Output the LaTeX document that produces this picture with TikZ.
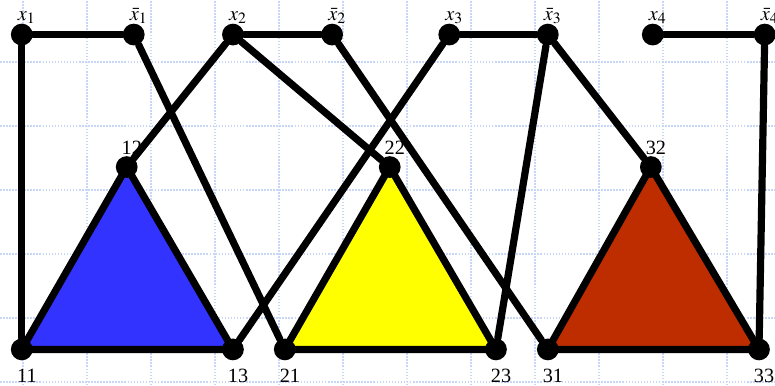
\documentclass[tikz,border=0pt]{standalone}
\usepackage{mathptmx}
\usepackage{fontspec}
\setmainfont{Liberation Serif}
\usepackage{xcolor}
\usepackage{tikz}
\usetikzlibrary{positioning,calc,backgrounds}

\definecolor{gridblue}{RGB}{200,214,248}
\definecolor{triblue}{RGB}{51,51,255}
\definecolor{triyellow}{RGB}{255,255,0}
\definecolor{trired}{RGB}{190,45,0}

\begin{document}
\begin{tikzpicture}[
    dot/.style={circle, fill=black, inner sep=0pt, minimum size=0.34cm},
    wire/.style={line width=3.2pt, black, line join=round, line cap=round},
    lab/.style={font=\fontsize{9}{10}\selectfont, inner sep=0pt, text depth=0pt, xshift=0.08cm},
    gridline/.style={gridblue, line width=0.7pt, dash pattern=on 0.7pt off 0.65pt}
]
    \useasboundingbox (0,0) rectangle (12.11,6.02);

    % Literal nodes (top row)
    \node[dot, label={[lab, label distance=1.1pt]above:$x_1$}] (x1) at (0.34,5.48) {};
    \node[dot, label={[lab, label distance=1.1pt]above:$\bar{x}_1$}] (nx1) at (2.09,5.48) {};
    \node[dot, label={[lab, label distance=1.1pt]above:$x_2$}] (x2) at (3.64,5.48) {};
    \node[dot, label={[lab, label distance=1.1pt]above:$\bar{x}_2$}] (nx2) at (5.19,5.48) {};
    \node[dot, label={[lab, label distance=1.1pt]above:$x_3$}] (x3) at (7.02,5.48) {};
    \node[dot, label={[lab, label distance=1.1pt]above:$\bar{x}_3$}] (nx3) at (8.56,5.48) {};
    \node[dot, label={[lab, label distance=1.1pt]above:$x_4$}] (x4) at (10.20,5.48) {};
    \node[dot, label={[lab, label distance=1.1pt]above:$\bar{x}_4$}] (nx4) at (11.95,5.48) {};

    % Clause triangles
    \node[dot, label={[lab, label distance=3.5pt]below:11}] (n11) at (0.34,0.56) {};
    \node[dot, label={[lab, label distance=0.2pt]above:12}] (n12) at (1.98,3.41) {};
    \node[dot, label={[lab, label distance=3.5pt]below:13}] (n13) at (3.64,0.56) {};

    \node[dot, label={[lab, label distance=3.5pt]below:21}] (n21) at (4.45,0.56) {};
    \node[dot, label={[lab, label distance=0.2pt]above:22}] (n22) at (6.09,3.41) {};
    \node[dot, label={[lab, label distance=3.5pt]below:23}] (n23) at (7.75,0.56) {};

    \node[dot, label={[lab, label distance=3.5pt]below:31}] (n31) at (8.56,0.56) {};
    \node[dot, label={[lab, label distance=0.2pt]above:32}] (n32) at (10.17,3.41) {};
    \node[dot, label={[lab, label distance=3.5pt]below:33}] (n33) at (11.86,0.56) {};

    % Variable edges
    \draw[wire] (x1) -- (nx1);
    \draw[wire] (x2) -- (nx2);
    \draw[wire] (x3) -- (nx3);
    \draw[wire] (x4) -- (nx4);

    % Literal to clause edges
    \draw[wire] (x1) -- (n11);
    \draw[wire] (nx1) -- (n21);
    \draw[wire] (x2) -- (n12);
    \draw[wire] (x2) -- (n22);
    \draw[wire] (nx2) -- (n31);
    \draw[wire] (x3) -- (n13);
    \draw[wire] (nx3) -- (n23);
    \draw[wire] (nx3) -- (n32);
    \draw[wire] (nx4) -- (n33);

    \begin{pgfonlayer}{background}
        \foreach \gx in {0.36,1.36,...,11.4}
            \draw[gridline] (\gx,0) -- (\gx,6.02);
        \foreach \gy in {0.05,1.05,...,5.1}
            \draw[gridline] (0,\gy) -- (12.11,\gy);
        \filldraw[wire, fill=triblue] (n11.center) -- (n12.center) -- (n13.center) -- cycle;
        \filldraw[wire, fill=triyellow] (n21.center) -- (n22.center) -- (n23.center) -- cycle;
        \filldraw[wire, fill=trired] (n31.center) -- (n32.center) -- (n33.center) -- cycle;
    \end{pgfonlayer}
\end{tikzpicture}
\end{document}
